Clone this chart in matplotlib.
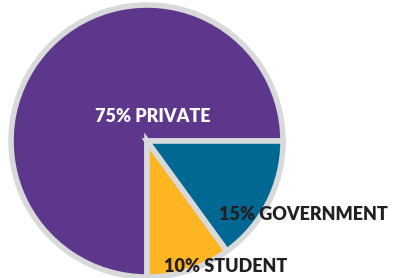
import matplotlib.pyplot as plt

labels = ["PRIVATE", "STUDENT", "GOVERNMENT"]
shares = [75, 10, 15]
colors = ["#5c378b", "#fdb522", "#006893"]
explode = [0, 0.03, 0.03]

fig = plt.figure(figsize=(3.93, 2.78), dpi=100)
ax = fig.add_axes([0, 0, 1, 1])

ax.pie(shares, colors=colors, explode=explode, startangle=0,
       counterclock=True, center=(147, 137), radius=136,
       wedgeprops=dict(edgecolor="#d8d9db", linewidth=4),
       frame=True)
ax.set_xlim(0, 393)
ax.set_ylim(0, 278)
ax.set_aspect("equal")
ax.axis("off")

font = dict(family="Lato", fontweight="heavy", fontsize=13)
ax.text(153, 162, f"{shares[0]}% {labels[0]}", color="white",
        ha="center", va="center", **font)
ax.text(219, 64, f"{shares[2]}% {labels[2]}", color="#231f20",
        ha="left", va="center", **font)
ax.text(164, 11, f"{shares[1]}% {labels[1]}", color="#231f20",
        ha="left", va="center", **font)

fig.savefig("out.png", dpi=100)
